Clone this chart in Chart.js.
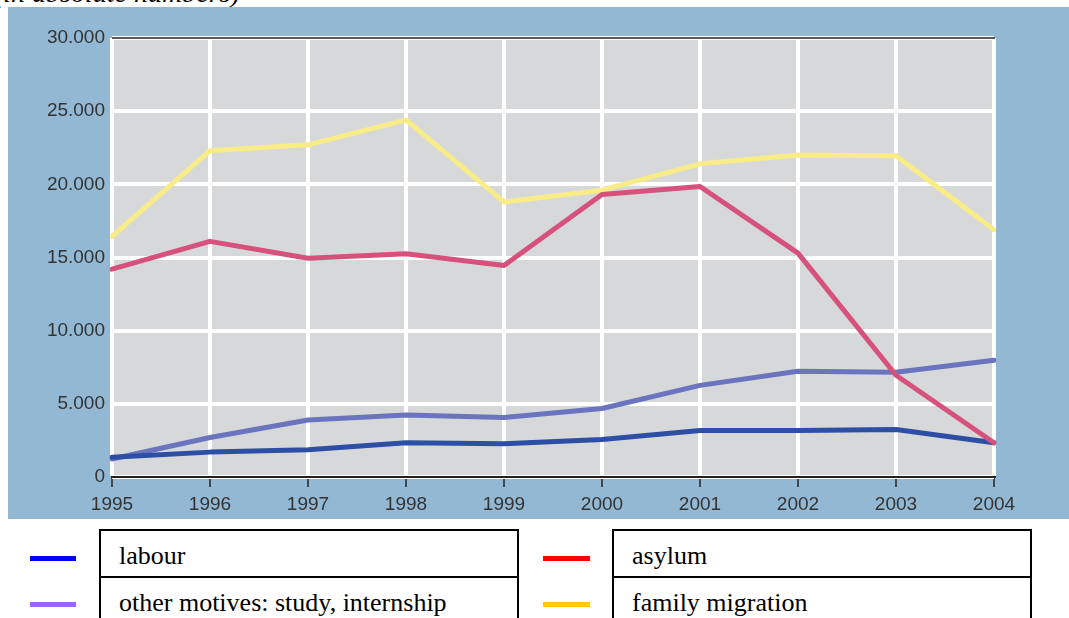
<!DOCTYPE html>
<html>
<head>
<meta charset="utf-8">
<script src="https://cdn.jsdelivr.net/npm/chart.js@4.4.1/dist/chart.umd.min.js"></script>
<style>
  html, body { margin: 0; padding: 0; background: #fff; }
  body { width: 1069px; height: 618px; position: relative; overflow: hidden; }
  .caption {
    position: absolute; left: -6px; top: -23px;
    font: italic 28px "Liberation Serif", serif; color: #000; white-space: nowrap;
  }
  .panel { position: absolute; left: 8px; top: 7px; width: 1061px; height: 512px; background: #92b8d4; }
  .panel canvas { display: block; }
  .swatch { position: absolute; height: 5px; }
  .box {
    position: absolute; width: 416px; height: 45px; border: 2px solid #000;
    font: 26px "Liberation Serif", serif; color: #000; box-sizing: content-box;
  }
  .box span { position: absolute; left: 18px; top: 10px; white-space: nowrap; }
</style>
</head>
<body>
<div class="caption">(in absolute numbers)</div>
<div class="panel"><canvas id="chart" width="1061" height="512"></canvas></div>

<div class="swatch" style="left:30px;top:556px;width:46px;background:#0000ff"></div>
<div class="swatch" style="left:30px;top:602px;width:46px;background:#9966ff"></div>
<div class="swatch" style="left:543px;top:556px;width:47px;background:#ff0000"></div>
<div class="swatch" style="left:543px;top:602px;width:47px;background:#ffcc00"></div>

<div class="box" style="left:99px;top:529px"><span>labour</span></div>
<div class="box" style="left:99px;top:576px"><span>other motives: study, internship</span></div>
<div class="box" style="left:612px;top:529px"><span>asylum</span></div>
<div class="box" style="left:612px;top:576px"><span>family migration</span></div>

<script>
// values
const years = ["1995", "1996", "1997", "1998", "1999", "2000", "2001", "2002", "2003", "2004"];
const labour = [1350, 1700, 1860, 2340, 2280, 2560, 3170, 3180, 3240, 2340];
const otherMotives = [1230, 2700, 3900, 4240, 4060, 4680, 6260, 7230, 7160, 7980];
const asylum = [14200, 16100, 14950, 15250, 14450, 19300, 19850, 15300, 6950, 2340];
const familyMigration = [16450, 22300, 22700, 24400, 18800, 19600, 21400, 22000, 21950, 16900];

const yTicks = [0, 5000, 10000, 15000, 20000, 25000, 30000];

const fmt = (v) => v === 0 ? "0" : (v / 1000) + ".000";

// gray plot background + black top rule
const plotBg = {
  id: "plotBg",
  beforeDraw(chart) {
    const { ctx, chartArea: a } = chart;
    ctx.save();
    ctx.fillStyle = "#d7d8da";
    ctx.fillRect(a.left, a.top, a.right - a.left, a.bottom - a.top);
    ctx.restore();
  },
  afterDraw(chart) {
    const { ctx, chartArea: a } = chart;
    ctx.save();
    ctx.strokeStyle = "#222";
    ctx.lineWidth = 1.5;
    ctx.beginPath();
    ctx.moveTo(a.left, a.top);
    ctx.lineTo(a.right + 1, a.top);
    ctx.stroke();
    ctx.restore();
  }
};

const tickFont = { family: "'Liberation Sans', Arial, sans-serif", size: 19 };

new Chart(document.getElementById("chart"), {
  type: "line",
  data: {
    labels: years,
    datasets: [
      { label: "asylum", data: asylum, borderColor: "#d6517b" },
      { label: "labour", data: labour, borderColor: "#2c4ea4" },
      { label: "other motives: study, internship", data: otherMotives, borderColor: "#6a74bf" },
      { label: "family migration", data: familyMigration, borderColor: "#f7ec88" }
    ]
  },
  options: {
    responsive: false,
    animation: false,
    elements: {
      line: { borderWidth: 5, tension: 0, borderCapStyle: "round", borderJoinStyle: "round" },
      point: { radius: 0, hoverRadius: 0 }
    },
    layout: { padding: { left: 0, top: 31, right: 75, bottom: 0 } },
    plugins: { legend: { display: false }, tooltip: { enabled: false } },
    scales: {
      x: {
        offset: false,
        grid: { color: "#ffffff", lineWidth: 4, tickColor: "#222", tickLength: 10, tickWidth: 1.5 },
        border: { color: "#222", width: 2 },
        ticks: { color: "#333", font: tickFont, padding: 6, maxRotation: 0, autoSkip: false },
        afterFit: (s) => { s.height = 42; }
      },
      y: {
        min: 0,
        max: 30000,
        afterBuildTicks: (s) => { s.ticks = yTicks.map(v => ({ value: v })); },
        grid: { color: "#ffffff", lineWidth: 4, drawTicks: false },
        border: { display: false },
        ticks: { color: "#333", font: tickFont, padding: 7, callback: (v) => fmt(v) },
        afterFit: (s) => { s.width = 104; }
      }
    }
  },
  plugins: [plotBg]
});
</script>
</body>
</html>
